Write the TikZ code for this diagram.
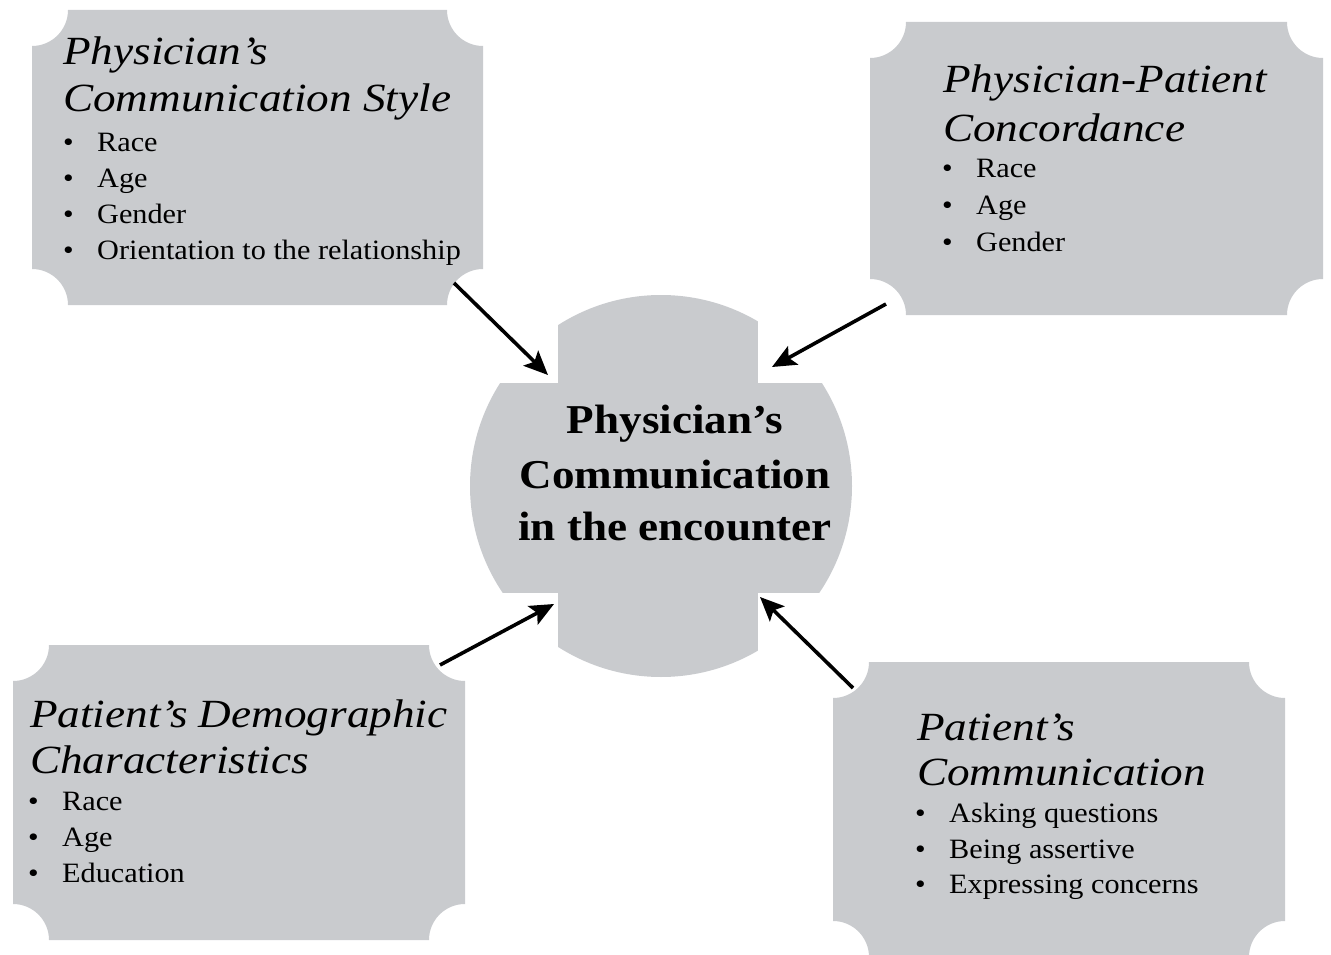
\documentclass[tikz,border=0pt]{standalone}
\usepackage{fontspec}
\setmainfont{Liberation Serif}
\newfontfamily\ttlfont{Liberation Serif}[FakeStretch=1.13]
\newfontfamily\itmfont{Liberation Serif}[FakeStretch=1.08]
\newfontfamily\ctrfont{Liberation Serif}[FakeStretch=1.1]
\usetikzlibrary{arrows.meta}
\definecolor{plaquegray}{RGB}{201,203,206}
\newcommand\plaquebox[5]{%
  \fill[plaquegray] (#1+#5,#2) -- (#3-#5,#2) arc[start angle=180,end angle=90,radius=#5]
    -- (#3,#4-#5) arc[start angle=270,end angle=180,radius=#5]
    -- (#1+#5,#4) arc[start angle=0,end angle=-90,radius=#5]
    -- (#1,#2+#5) arc[start angle=90,end angle=0,radius=#5] -- cycle;}
\tikzset{
  ttl/.style={font=\ttlfont\itshape\fontsize{40}{47}\selectfont, anchor=base west, inner sep=0pt},
  itm/.style={font=\itmfont\fontsize{28}{34}\selectfont, anchor=base west, inner sep=0pt},
  ctr/.style={font=\ctrfont\bfseries\fontsize{41}{50}\selectfont, anchor=base, inner sep=0pt},
  conn/.style={line width=3.6pt, -{Stealth[length=24pt,width=21pt,inset=5pt]}},
}
\newcommand\bul[1]{\makebox[34pt][l]{•}#1}
\begin{document}
\begin{tikzpicture}[x=1pt,y=-1pt]
\useasboundingbox (0,0) rectangle (1331,955);
% boxes
\plaquebox{32}{10}{483}{305}{36}
\plaquebox{870}{22}{1323}{315}{36}
\plaquebox{13}{645}{465}{940}{36}
\plaquebox{833}{662}{1285}{957}{36}
% centre shape
\begin{scope}
  \clip (661,486) circle (191);
  \fill[plaquegray] (558,0) rectangle (758,955);
  \fill[plaquegray] (0,383) rectangle (1331,593);
\end{scope}
% centre text
\node[ctr] (c1) at (675,433) {Physician’s};
\node[ctr] (c2) at (675,488) {Communication};
\node[ctr] (c3) at (675,540) {in the encounter};
% box 1
\node[ttl] (a1) at (63,65) {Physician’s};
\node[ttl] (a2) at (63,112) {Communication Style};
\node[itm] (a3) at (63,152) {\bul{Race}};
\node[itm] (a4) at (63,188) {\bul{Age}};
\node[itm] (a5) at (63,223) {\bul{Gender}};
\node[itm] (a6) at (63,259) {\bul{Orientation to the relationship}};
% box 2
\node[ttl] (b1) at (943,93) {Physician-Patient};
\node[ttl] (b2) at (943,142) {Concordance};
\node[itm] (b3) at (942,178) {\bul{Race}};
\node[itm] (b4) at (942,214) {\bul{Age}};
\node[itm] (b5) at (942,251) {\bul{Gender}};
% box 3
\node[ttl] (d1) at (30,727) {Patient’s Demographic};
\node[ttl] (d2) at (30,773) {Characteristics};
\node[itm] (d3) at (28,810) {\bul{Race}};
\node[itm] (d4) at (28,846) {\bul{Age}};
\node[itm] (d5) at (28,882) {\bul{Education}};
% box 4
\node[ttl] (e1) at (917,740) {Patient’s};
\node[ttl] (e2) at (917,785) {Communication};
\node[itm] (e3) at (915,822) {\bul{Asking questions}};
\node[itm] (e4) at (915,858) {\bul{Being assertive}};
\node[itm] (e5) at (915,893) {\bul{Expressing concerns}};
% connectors
\coordinate (s1) at (454,283);
\coordinate (t1) at (548,375);
\coordinate (s2) at (886,304);
\coordinate (t2) at (772,367);
\coordinate (s3) at (440,665);
\coordinate (t3) at (554,604);
\coordinate (s4) at (853,688);
\coordinate (t4) at (760,597);
\draw[conn] (s1) -- (t1);
\draw[conn] (s2) -- (t2);
\draw[conn] (s3) -- (t3);
\draw[conn] (s4) -- (t4);
\end{tikzpicture}
\end{document}
